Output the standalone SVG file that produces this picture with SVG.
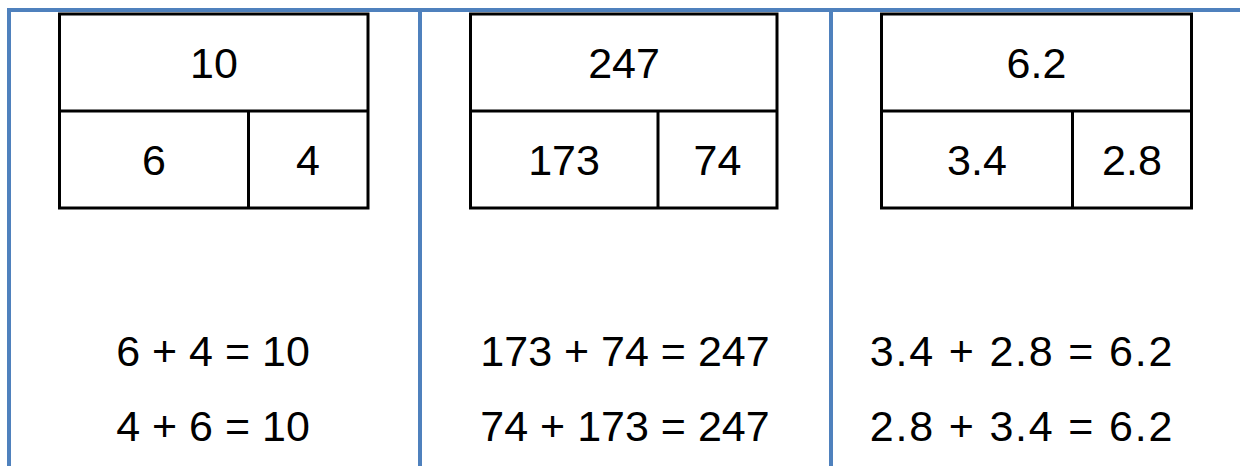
<svg xmlns="http://www.w3.org/2000/svg" width="1240" height="466" viewBox="0 0 1240 466">
<style>
.grid{stroke:#4F81BD;stroke-width:4;fill:none}
.box{stroke:#000;stroke-width:3;fill:#fff}
.t{font-family:"Liberation Sans",Arial,sans-serif;font-size:43px;fill:#000;text-anchor:middle}
.w{letter-spacing:1.8px}
</style>
<rect width="1240" height="466" fill="#fff"/>
<g id="frame">
<line class="grid" x1="7" y1="10" x2="1240" y2="10"/>
<line class="grid" x1="9" y1="8" x2="9" y2="466"/>
<line class="grid" x1="420" y1="10" x2="420" y2="466"/>
<line class="grid" x1="831" y1="10" x2="831" y2="466"/>
</g>
<g id="box1">
<rect class="box" x="59.5" y="14" width="308.5" height="194"/>
<line class="box" x1="59.5" y1="111" x2="368" y2="111"/>
<line class="box" x1="248.5" y1="111" x2="248.5" y2="208"/>
<text class="t" x="214" y="78">10</text>
<text class="t" x="154" y="175">6</text>
<text class="t" x="308" y="175">4</text>
</g>
<g id="box2">
<rect class="box" x="470.5" y="14" width="306.5" height="194"/>
<line class="box" x1="470.5" y1="111" x2="777" y2="111"/>
<line class="box" x1="658" y1="111" x2="658" y2="208"/>
<text class="t" x="624" y="78">247</text>
<text class="t" x="564" y="175">173</text>
<text class="t" x="717.5" y="175">74</text>
</g>
<g id="box3">
<rect class="box" x="881.5" y="14" width="310" height="194"/>
<line class="box" x1="881.5" y1="111" x2="1191.5" y2="111"/>
<line class="box" x1="1072.5" y1="111" x2="1072.5" y2="208"/>
<text class="t" x="1036.5" y="78">6.2</text>
<text class="t" x="977" y="175">3.4</text>
<text class="t" x="1132" y="175">2.8</text>
</g>
<g id="equations">
<text class="t" x="213" y="366">6 + 4 = 10</text>
<text class="t" x="213" y="441">4 + 6 = 10</text>
<text class="t" x="625" y="366">173 + 74 = 247</text>
<text class="t" x="625" y="441">74 + 173 = 247</text>
<text class="t w" x="1022" y="366">3.4 + 2.8 = 6.2</text>
<text class="t w" x="1022" y="441">2.8 + 3.4 = 6.2</text>
</g>
</svg>
